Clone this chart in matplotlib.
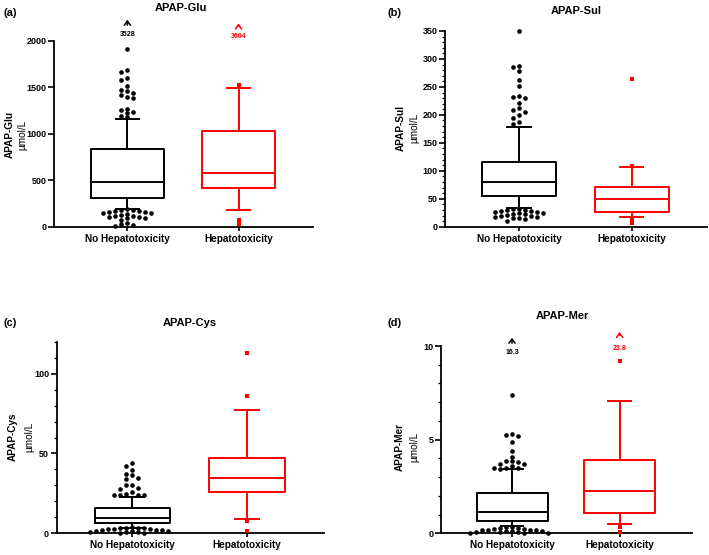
import numpy as np
import matplotlib
matplotlib.use("Agg")
import matplotlib.pyplot as plt
from matplotlib.ticker import MultipleLocator

plt.rcParams['font.family'] = ['Liberation Sans', 'DejaVu Sans']

# Group names and colours
groups = ['No Hepatotoxicity', 'Hepatotoxicity']
colors = ['black', '#ff0000']

# Box statistics per panel: [q1, median, q3, whisker low, whisker high]
glu_no = [305, 477, 831, 190, 1158]
glu_hep = [419, 573, 1032, 176, 1487]
sul_no = [55.5, 79.3, 115.7, 33, 178]
sul_hep = [26, 49.5, 71, 17, 106]
cys_no = [6.3, 9.6, 16.1, 3.6, 22.8]
cys_hep = [25.9, 34.7, 47.1, 8.8, 77.4]
mer_no = [0.66, 1.15, 2.14, 0.39, 3.43]
mer_hep = [1.09, 2.26, 3.91, 0.52, 7.05]

# Outliers
glu_no_out = [1907, 1685, 1663, 1602, 1580, 1510, 1470, 1460, 1440, 1420, 1400, 1380,
              1270, 1250, 1230, 1220, 1190, 1175,
              185, 180, 175, 170, 165, 160, 155, 150, 145, 140, 130, 120, 110, 105,
              100, 95, 90, 75, 40, 30, 15, 10]
glu_hep_out = [1520, 75, 25]
sul_no_out = [350, 287, 286, 278, 262, 252, 234, 232, 231, 221, 213, 209, 206, 200,
              195, 188, 183,
              32, 31, 30, 29, 28, 28, 27, 26, 25, 24, 23, 22, 21, 20, 19, 18, 17, 16,
              15, 14, 10]
sul_hep_out = [264, 109, 14, 6]
cys_no_out = [44, 42, 39.5, 37, 36.5, 34.5, 34, 30.5, 30, 28.5, 28, 25.7, 24.5, 24.3,
              24, 24, 23.8,
              3.8, 3.5, 3.5, 3.3, 3.2, 3.0, 2.8, 2.5, 2.3, 2.0, 1.8, 1.6, 1.5, 1.2,
              1.0, 0.9, 0.7, 0.5, 0.3]
cys_hep_out = [112.8, 85.8, 7.5, 1.5]
mer_no_out = [7.4, 5.3, 5.25, 5.2, 4.85, 4.4, 4.1, 3.85, 3.85, 3.8, 3.7, 3.7, 3.6,
              3.5, 3.5, 3.5, 3.45,
              0.35, 0.33, 0.3, 0.28, 0.25, 0.22, 0.2, 0.18, 0.15, 0.15, 0.12, 0.1,
              0.1, 0.08, 0.06, 0.05, 0.04, 0.03, 0.02]
mer_hep_out = [9.2, 0.36, 0.05]

# Off-scale maxima written above the columns
glu_max = ['3528', '3604']
mer_max = ['16.3', '23.8']

W, H = 709, 555
fig = plt.figure(figsize=(W / 100, H / 100), dpi=100)


def px_axes(left, top, right, bottom):
    return fig.add_axes([left / W, 1 - bottom / H, (right - left) / W, (bottom - top) / H])


def swarm(ax, xc, vals, step=6.0, mind=4.0):
    # spread points sideways so they don't overlap too much (like Prism)
    pts = ax.transData.transform(np.column_stack([np.full(len(vals), xc), vals]))
    placed = []
    out = []
    order = [0] + [s * i for i in range(1, 30) for s in (-1, 1)]
    for px, py in pts:
        for c in order:
            cx = px + c * step
            if all((cx - qx) ** 2 + (py - qy) ** 2 >= mind ** 2 for qx, qy in placed):
                break
        placed.append((cx, py))
        out.append(cx)
    xs = ax.transData.inverted().transform(np.column_stack([out, pts[:, 1]]))[:, 0]
    return xs


def panel(ax, stats, outs, ymax, major, minor):
    ax.set_xlim(-0.66, 1.67)
    ax.set_ylim(0, ymax)
    for i, (st, col) in enumerate(zip(stats, colors)):
        q1, med, q3, lo, hi = st
        ax.bxp([dict(q1=q1, med=med, q3=q3, whislo=lo, whishi=hi, fliers=[])],
               positions=[i], widths=0.66, capwidths=0.21, showfliers=False,
               boxprops=dict(color=col, lw=1.4), medianprops=dict(color=col, lw=1.4),
               whiskerprops=dict(color=col, lw=1.4), capprops=dict(color=col, lw=1.4),
               manage_ticks=False)
        xs = swarm(ax, i, outs[i])
        if i == 0:
            ax.scatter(xs, outs[i], s=11, color=col, marker='o', lw=0, clip_on=False, zorder=3)
        else:
            ax.scatter(xs, outs[i], s=8, color=col, marker='s', lw=0, clip_on=False, zorder=3)
    for s in ['top', 'right']:
        ax.spines[s].set_visible(False)
    for s in ['left', 'bottom']:
        ax.spines[s].set_linewidth(1.3)
    ax.yaxis.set_major_locator(MultipleLocator(major))
    if minor:
        ax.yaxis.set_minor_locator(MultipleLocator(minor))
    ax.set_xticks([0, 1])
    ax.set_xticklabels(groups, fontsize=7.2, fontweight='bold')
    ax.tick_params(axis='y', which='major', length=4, width=1.2, labelsize=6.5, pad=1.5)
    ax.tick_params(axis='y', which='minor', length=2.2, width=0.9)
    ax.tick_params(axis='x', length=3, width=1.2, pad=2)
    for lab in ax.get_yticklabels():
        lab.set_fontweight('bold')


def ftext(x, y, s, **kw):
    fig.text(x / W, 1 - y / H, s, **kw)


def ylab(x1, x2, y, name):
    ftext(x1, y, name, rotation=90, ha='center', va='center', fontsize=7.2, fontweight='bold')
    ftext(x2, y, 'µmol/L', rotation=90, ha='center', va='center', fontsize=7.2)


def offscale(ax, x, tip, tail, ytxt, label, col):
    ax.annotate('', xy=(x, tip), xytext=(x, tail), annotation_clip=False,
                arrowprops=dict(arrowstyle='->,head_length=0.3,head_width=0.22', lw=1.1, color=col))
    ax.text(x, ytxt, label, ha='center', va='center', fontsize=5, fontweight='bold',
            color=col, clip_on=False)


# (a) APAP-Glu
ax_a = px_axes(54, 40.7, 313, 226.7)
panel(ax_a, [glu_no, glu_hep], [glu_no_out, glu_hep_out], 2000, 500, None)
offscale(ax_a, 0, 2255, 2137, 2069, glu_max[0], colors[0])
offscale(ax_a, 1, 2215, 2126, 2043, glu_max[1], colors[1])
ftext(181, 8, 'APAP-Glu', ha='center', va='center', fontsize=8, fontweight='bold')
ftext(3, 13, '(a)', ha='left', va='center', fontsize=8, fontweight='bold')
ylab(10, 22, 135, 'APAP-Glu')

# (b) APAP-Sul
ax_b = px_axes(445, 31, 707, 226.7)
panel(ax_b, [sul_no, sul_hep], [sul_no_out, sul_hep_out], 350, 50, 10)
ftext(576, 11, 'APAP-Sul', ha='center', va='center', fontsize=8, fontweight='bold')
ftext(387, 13, '(b)', ha='left', va='center', fontsize=8, fontweight='bold')
ylab(401, 414, 128, 'APAP-Sul')

# (c) APAP-Cys
ax_c = px_axes(56.7, 341.7, 324, 533.3)
panel(ax_c, [cys_no, cys_hep], [cys_no_out, cys_hep_out], 120, 50, 10)
ax_c.set_yticks([0, 50, 100])
ftext(190, 323, 'APAP-Cys', ha='center', va='center', fontsize=8, fontweight='bold')
ftext(3, 323, '(c)', ha='left', va='center', fontsize=8, fontweight='bold')
ylab(13, 29, 437, 'APAP-Cys')

# (d) APAP-Mer
ax_d = px_axes(441, 346, 691.7, 533.3)
panel(ax_d, [mer_no, mer_hep], [mer_no_out, mer_hep_out], 10, 5, 1)
offscale(ax_d, 0, 10.59, 10.0, 9.64, mer_max[0], colors[0])
offscale(ax_d, 1, 10.9, 10.43, 9.88, mer_max[1], colors[1])
ftext(562, 316, 'APAP-Mer', ha='center', va='center', fontsize=8, fontweight='bold')
ftext(387, 323, '(d)', ha='left', va='center', fontsize=8, fontweight='bold')
ylab(400, 414, 447, 'APAP-Mer')

fig.savefig('out.png', dpi=100)
